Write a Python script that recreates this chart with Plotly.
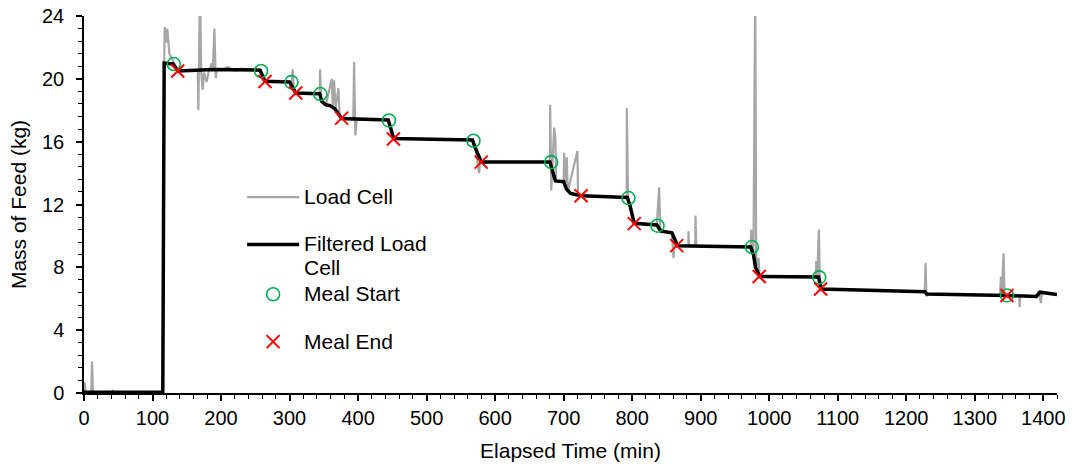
import plotly.graph_objects as go

# Filtered load cell (black) breakpoints: time (min), mass (kg)
filt_t = [0, 115, 117, 130, 137, 190, 257, 260, 264, 300, 303, 309, 344, 347, 353, 359, 366,
          376, 444, 447, 452, 567, 571, 580, 680, 684, 688, 700, 704, 710, 726, 793, 797, 803,
          836, 842, 858, 862, 866, 973, 977, 980, 986, 1072, 1074, 1076, 1227, 1230, 1347,
          1390, 1395, 1405, 1420]
filt_kg = [0.05, 0.05, 21.0, 20.95, 20.5, 20.6, 20.55, 20.3, 19.85, 19.8, 19.6, 19.1, 19.05,
           18.56, 18.35, 18.3, 18.1, 17.47, 17.38, 16.9, 16.2, 16.1, 15.6, 14.7, 14.7, 14.1,
           13.5, 13.45, 13.0, 12.7, 12.56, 12.45, 11.9, 10.8, 10.7, 10.3, 10.2, 9.8, 9.38,
           9.3, 8.8, 8.0, 7.42, 7.38, 6.9, 6.62, 6.45, 6.3, 6.2, 6.15, 6.42, 6.35, 6.27]

# Raw load cell (grey) breakpoints including spikes
raw_t = [0, 1, 2.5, 10.5, 11.7, 13, 41, 42, 43, 115,
         117, 117.8, 119.7, 121.6, 124.6, 128, 131, 137,
         166, 166.9, 169.3, 171, 173.2, 175.2, 179, 182, 186.4, 188, 190.3, 192.2, 194,
         200, 210, 220, 230, 257,
         260, 264, 300, 303, 304.6, 306, 309, 344, 344.5, 346, 353, 361.6, 363, 365, 367,
         371.3, 373, 376, 393, 394.2, 396, 398, 444, 447, 452,
         567, 571, 576.6, 578, 580, 680, 680.3, 682, 686.1, 688, 689, 700, 700.7, 702,
         704.6, 706, 720.1, 721, 726, 792, 792.2, 794, 797, 803, 836, 839.4, 841, 858,
         860.3, 862, 866, 882, 882.2, 883, 892, 892.5, 893.5, 973, 973.7, 975, 977, 979.6,
         981, 984.4, 986, 1068, 1068.6, 1070, 1072.5, 1074, 1076, 1227, 1228.2, 1229.5,
         1231, 1337, 1338.2, 1339.5, 1342, 1343.5, 1365, 1365.4, 1366.5, 1390, 1393,
         1396.6, 1398, 1405, 1420]
raw_kg = [0.05, 0.68, 0.05, 0.05, 2.0, 0.05, 0.05, 0.2, 0.05, 0.05,
          21.0, 23.3, 22.3, 23.2, 21.6, 21.3, 21.0, 20.5,
          20.5, 18.0, 26.0, 20.5, 19.3, 20.4, 19.8, 20.5, 21.0, 20.5, 23.2, 20.05, 20.6,
          20.55, 20.75, 20.5, 20.65, 20.55,
          20.3, 19.85, 19.8, 19.6, 20.6, 19.4, 19.1, 19.05, 20.6, 18.7, 18.35, 20.0, 18.3,
          19.9, 18.1, 19.4, 17.7, 17.47, 17.4, 21.07, 16.4, 17.4, 17.38, 16.9, 16.2,
          16.1, 15.6, 14.0, 14.7, 14.7, 14.7, 18.35, 12.9, 16.9, 16.2, 13.5, 13.45, 15.3,
          13.2, 15.0, 12.8, 15.4, 12.6, 12.56, 12.45, 18.14, 12.3, 11.9, 10.8, 10.7, 13.1,
          10.4, 10.2, 8.6, 9.8, 9.38, 9.35, 10.3, 9.35, 9.35, 11.3, 9.35, 9.3, 10.4, 9.0,
          8.9, 26.0, 8.0, 8.6, 7.42, 7.38, 8.4, 7.38, 10.4, 6.9, 6.62, 6.45, 8.27, 6.15,
          6.3, 6.22, 7.42, 6.2, 8.9, 6.2, 6.2, 5.47, 6.2, 6.15, 6.47, 5.73, 6.45, 6.35,
          6.27]

# Meal start / end events
start_t = [131, 258.4, 302.7, 345, 445, 568.4, 681.8, 794.6, 837, 974.7, 1073, 1347]
start_kg = [20.94, 20.5, 19.79, 19.03, 17.35, 16.06, 14.7, 12.41, 10.65, 9.29, 7.36, 6.21]
end_t = [136.8, 264.2, 309, 376, 451.6, 579.6, 725.5, 803, 865, 985.4, 1075, 1347]
end_kg = [20.5, 19.83, 19.1, 17.5, 16.17, 14.7, 12.56, 10.78, 9.38, 7.42, 6.62, 6.21]

FONT = "Liberation Sans, Arial, sans-serif"


def big(s):
    return '<span style="font-size:21px">' + s + '</span>'


fig = go.Figure()
fig.add_trace(go.Scatter(x=raw_t, y=raw_kg, mode="lines", name=big("Load Cell"),
                         line=dict(color="#a6a6a6", width=2.2), legendgroup="a"))
fig.add_trace(go.Scatter(x=filt_t, y=filt_kg, mode="lines",
                         name=big("Filtered Load") + "<br>" + big("Cell"),
                         line=dict(color="#000000", width=3.5), legendgroup="b"))
fig.add_trace(go.Scatter(x=start_t, y=start_kg, mode="markers", name=big("Meal Start"),
                         marker=dict(symbol="circle-open", size=13, color="#00b050",
                                     line=dict(width=1.6, color="#00b050")),
                         legendgroup="b"))
fig.add_trace(go.Scatter(x=end_t, y=end_kg, mode="markers", name=big("Meal End"),
                         marker=dict(symbol="x-thin-open", size=13, color="#ff0000",
                                     line=dict(width=2, color="#ff0000")),
                         legendgroup="c"))

axis_common = dict(showgrid=False, zeroline=False, showline=True, linecolor="black",
                   linewidth=1.5, ticks="outside", tickcolor="black", ticklen=6,
                   tickwidth=1.5, automargin=False,
                   tickfont=dict(family=FONT, size=20, color="black"))

fig.update_xaxes(range=[0, 1420], dtick=100, tick0=0,
                 minor=dict(dtick=20, ticks="outside", ticklen=4, tickcolor="black",
                            tickwidth=1.2),
                 title=dict(text="Elapsed Time (min)", font=dict(family=FONT, size=21,
                                                                 color="black"),
                            standoff=16),
                 **axis_common)
fig.update_yaxes(range=[0, 24], dtick=4, tick0=0,
                 minor=dict(dtick=0.8, ticks="outside", ticklen=4, tickcolor="black",
                            tickwidth=1.2),
                 title=dict(text="Mass of Feed (kg)", font=dict(family=FONT, size=21,
                                                                color="black"),
                            standoff=10),
                 ticklabelstandoff=8,
                 **axis_common)

fig.update_layout(
    width=1075, height=472,
    margin=dict(l=84, r=18, t=16, b=79),
    paper_bgcolor="white", plot_bgcolor="white",
    font=dict(family=FONT, color="black"),
    legend=dict(x=0.1625, y=0.568, xanchor="left", yanchor="top",
                font=dict(family=FONT, size=18, color="black"),
                bgcolor="rgba(0,0,0,0)", valign="top", tracegroupgap=21,
                itemwidth=52),
)

fig.write_html("out.html")
